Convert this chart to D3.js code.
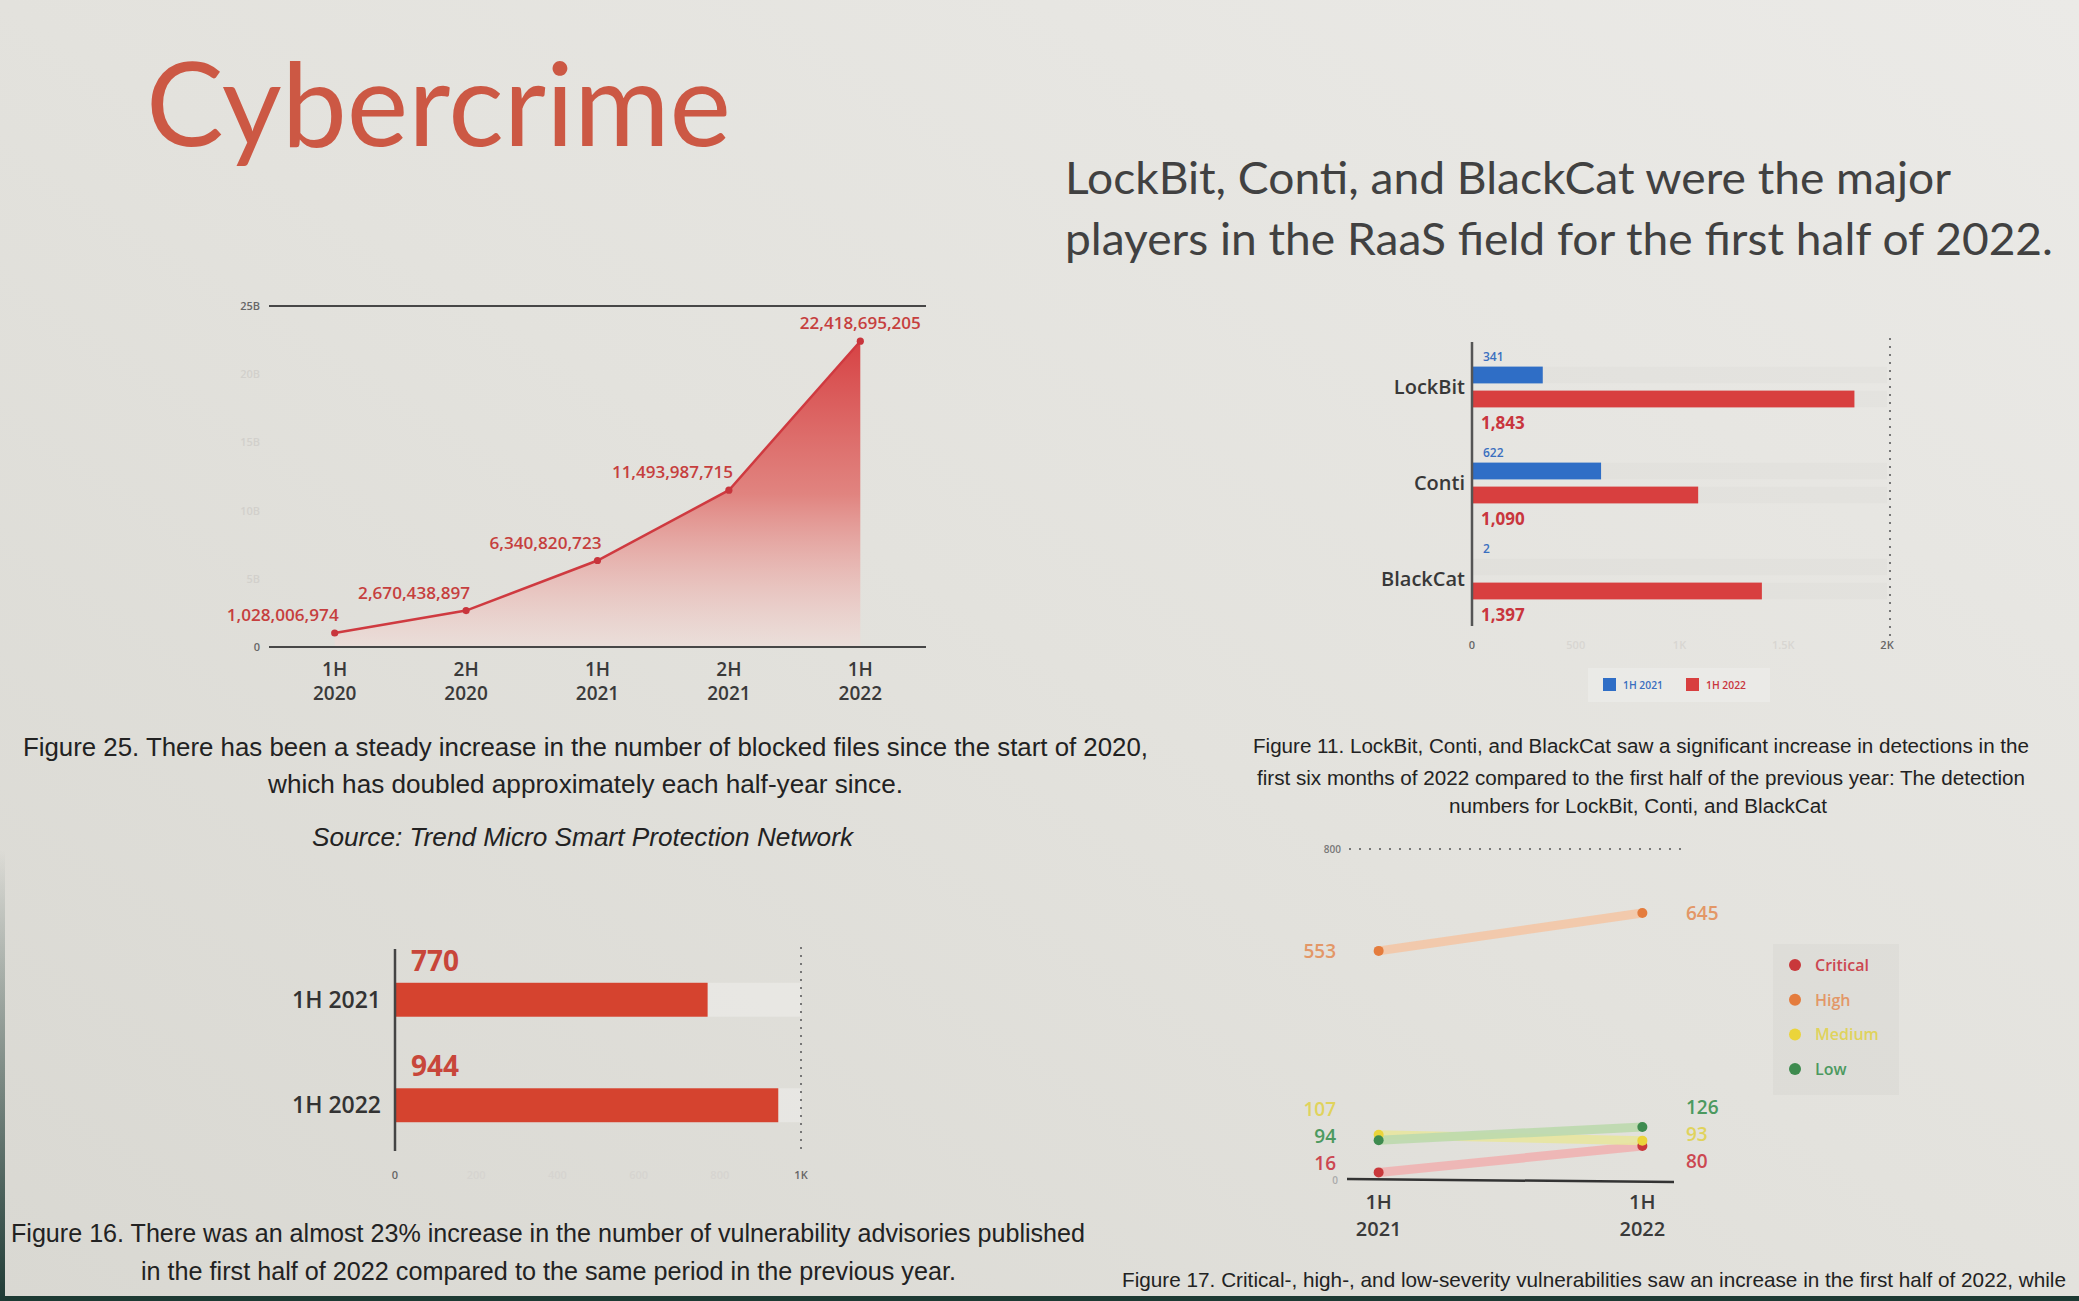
<!DOCTYPE html>
<html><head><meta charset="utf-8">
<script src="https://cdn.jsdelivr.net/npm/d3@7"></script>
<style>html,body{margin:0;padding:0;overflow:hidden;background:#e2e1dc}</style>
</head><body><svg id="c" width="2079" height="1301"></svg>
<script>
// ---------------- data ----------------
const blockedPeriods = ["1H 2020","2H 2020","1H 2021","2H 2021","1H 2022"];
const blockedFiles = [1028006974, 2670438897, 6340820723, 11493987715, 22418695205];
const blockedTicks = [0, 5e9, 10e9, 15e9, 20e9, 25e9];
const blockedTickLabels = ["0","5B","10B","15B","20B","25B"];

const raasGroups = ["LockBit","Conti","BlackCat"];
const raasSeries = ["1H 2021","1H 2022"];
const raas1H2021 = [341, 622, 2];
const raas1H2022 = [1843, 1090, 1397];
const raasTicks = [0, 500, 1000, 1500, 2000];
const raasTickLabels = ["0","500","1K","1.5K","2K"];

const advisoryPeriods = ["1H 2021","1H 2022"];
const advisoryCounts = [770, 944];
const advisoryTicks = [0, 200, 400, 600, 800, 1000];
const advisoryTickLabels = ["0","200","400","600","800","1K"];

const severityLevels = ["Critical","High","Medium","Low"];
const severityPeriods = ["1H 2021","1H 2022"];
const severity1H2021 = [16, 553, 107, 94];
const severity1H2022 = [80, 645, 93, 126];
const severityTicks = [0, 800];

const titleText = "Cybercrime";
const subtitleLines = ["LockBit, Conti, and BlackCat were the major",
                       "players in the RaaS field for the first half of 2022."];
const caption25 = ["Figure 25. There has been a steady increase in the number of blocked files since the start of 2020,",
                   "which has doubled approximately each half-year since."];
const source25 = "Source: Trend Micro Smart Protection Network";
const caption11 = ["Figure 11. LockBit, Conti, and BlackCat saw a significant increase in detections in the",
                   "first six months of 2022 compared to the first half of the previous year: The detection",
                   "numbers for LockBit, Conti, and BlackCat"];
const caption16 = ["Figure 16. There was an almost 23% increase in the number of vulnerability advisories published",
                   "in the first half of 2022 compared to the same period in the previous year."];
const caption17 = "Figure 17. Critical-, high-, and low-severity vulnerabilities saw an increase in the first half of 2022, while";

// ---------------- setup ----------------
const svg = d3.select("#c");
const defs = svg.append("defs");
const bgGrad = defs.append("linearGradient").attr("id","bg").attr("x1",0).attr("y1",1).attr("x2",1).attr("y2",0);
bgGrad.append("stop").attr("offset","0%").attr("stop-color","#d9d8d2");
bgGrad.append("stop").attr("offset","50%").attr("stop-color","#e3e2dd");
bgGrad.append("stop").attr("offset","100%").attr("stop-color","#ebeae7");
svg.append("rect").attr("width",2079).attr("height",1301).attr("fill","url(#bg)");

function txt(x, y, s, o) {
  o = o || {};
  const t = svg.append("text").attr("x", x).attr("y", y).text(s)
    .attr("font-family", o.family || "'Open Sans', sans-serif")
    .attr("font-size", o.size || 16)
    .attr("font-weight", o.weight || 400)
    .attr("fill", o.fill || "#333")
    .attr("text-anchor", o.anchor || "start");
  if (o.italic) t.attr("font-style", "italic");
  if (o.len) t.attr("textLength", o.len).attr("lengthAdjust", "spacingAndGlyphs");
  return t;
}

// ---------------- title & subtitle ----------------
txt(146, 146, titleText, {family:"Lato, sans-serif", size:117, fill:"#cc5844", len:585});
txt(1065, 194, subtitleLines[0], {family:"Lato, sans-serif", size:45, fill:"#414141", len:886});
txt(1065, 255, subtitleLines[1], {family:"Lato, sans-serif", size:45, fill:"#414141", len:988});

// ---------------- Figure 25: area chart ----------------
const x1 = d3.scalePoint().domain(blockedPeriods).range([269, 926]).padding(0.5);
const y1 = d3.scaleLinear().domain([0, 25e9]).range([647, 306]);
const areaGrad = defs.append("linearGradient").attr("id","areaG").attr("gradientUnits","userSpaceOnUse")
  .attr("x1",0).attr("x2",0).attr("y1", y1(d3.max(blockedFiles))).attr("y2", y1(0));
areaGrad.append("stop").attr("offset","0%").attr("stop-color","#d63a3c").attr("stop-opacity",0.95);
areaGrad.append("stop").attr("offset","50%").attr("stop-color","#e0736f").attr("stop-opacity",0.85);
areaGrad.append("stop").attr("offset","100%").attr("stop-color","#f3dcd8").attr("stop-opacity",0.5);

const blockedData = blockedPeriods.map((p,i) => ({p, v: blockedFiles[i]}));
svg.append("path").datum(blockedData)
  .attr("d", d3.area().x(d => x1(d.p)).y0(y1(0)).y1(d => y1(d.v)))
  .attr("fill","url(#areaG)");
svg.append("path").datum(blockedData)
  .attr("d", d3.line().x(d => x1(d.p)).y(d => y1(d.v)))
  .attr("fill","none").attr("stroke","#cf3a40").attr("stroke-width",2.5);
svg.selectAll(".d1").data(blockedData).enter().append("circle")
  .attr("cx", d => x1(d.p)).attr("cy", d => y1(d.v)).attr("r", 3.6).attr("fill","#c8353c");
[0, 25e9].forEach(v => {
  svg.append("line").attr("x1",269).attr("x2",926).attr("y1",y1(v)).attr("y2",y1(v))
    .attr("stroke","#474747").attr("stroke-width",2.2);
});
blockedTicks.forEach((v,i) => {
  txt(260, y1(v)+4, blockedTickLabels[i], {size:11, weight:600, anchor:"end",
    fill: (i===0 || i===blockedTicks.length-1) ? "#666" : "#d2d0cc"});
});
blockedData.forEach((d,i) => {
  const last = i === blockedData.length-1;
  txt(x1(d.p) + (last ? 0 : 4), y1(d.v) - 12, d3.format(",")(d.v),
      {size:16, weight:600, fill:"#c63f3e", anchor: last ? "middle" : "end", len: d.v >= 1e10 ? 121 : 112});
  const parts = d.p.split(" ");
  txt(x1(d.p), 676, parts[0], {size:19, weight:600, fill:"#3a3a3a", anchor:"middle"});
  txt(x1(d.p), 700, parts[1], {size:19, weight:600, fill:"#3a3a3a", anchor:"middle"});
});

const capFont = "'Liberation Sans', Arial, sans-serif";
txt(23, 756, caption25[0], {family:capFont, size:25, fill:"#222", len:1125});
txt(268, 793, caption25[1], {family:capFont, size:25, fill:"#222", len:635});
txt(312, 846, source25, {family:capFont, size:25, fill:"#222", italic:true, len:541});

// ---------------- Figure 11: RaaS bars ----------------
const x2 = d3.scaleLinear().domain([0, 2000]).range([1472, 1887]);
const y2 = d3.scaleBand().domain(raasGroups).range([339, 627]).padding(0);
const ys = d3.scaleBand().domain(raasSeries).range([0, y2.bandwidth()]).paddingInner(0.3).paddingOuter(1.15);
const raasColors = {"1H 2021":"#2f6ec6", "1H 2022":"#d83f3f"};
const raasLabelColors = {"1H 2021":"#3a6fbf", "1H 2022":"#c9353d"};
const raasData = [];
raasGroups.forEach((g,i) => {
  raasData.push({g, s:"1H 2021", v: raas1H2021[i]});
  raasData.push({g, s:"1H 2022", v: raas1H2022[i]});
});
svg.selectAll(".t2").data(raasData).enter().append("rect")
  .attr("x", x2(0)).attr("y", d => y2(d.g)+ys(d.s)).attr("width", x2(2000)-x2(0)).attr("height", ys.bandwidth())
  .attr("fill","rgba(0,0,0,0.017)");
svg.selectAll(".b2").data(raasData).enter().append("rect")
  .attr("x", x2(0)).attr("y", d => y2(d.g)+ys(d.s)).attr("width", d => x2(d.v)-x2(0)).attr("height", ys.bandwidth())
  .attr("fill", d => raasColors[d.s]);
raasData.forEach(d => {
  if (d.s === "1H 2021") {
    txt(x2(0)+11, y2(d.g)+ys(d.s)-6, d3.format(",")(d.v), {size:12, weight:600, fill:raasLabelColors[d.s]});
  } else {
    txt(x2(0)+9, y2(d.g)+ys(d.s)+ys.bandwidth()+22, d3.format(",")(d.v), {size:17, weight:700, fill:raasLabelColors[d.s]});
  }
});
raasGroups.forEach(g => {
  txt(x2(0)-7, y2(g)+y2.bandwidth()/2+7, g, {size:20, weight:600, fill:"#383838", anchor:"end"});
});
svg.append("line").attr("x1",x2(0)).attr("x2",x2(0)).attr("y1",342).attr("y2",626)
  .attr("stroke","#555").attr("stroke-width",2.5);
svg.append("line").attr("x1",x2(2000)+3).attr("x2",x2(2000)+3).attr("y1",338).attr("y2",637)
  .attr("stroke","#777").attr("stroke-width",2).attr("stroke-dasharray","2,6");
raasTicks.forEach((v,i) => {
  txt(x2(v), 649, raasTickLabels[i], {size:11, weight:600, anchor:"middle",
    fill: (i===0 || i===raasTicks.length-1) ? "#666" : "#d8d6d2"});
});
svg.append("rect").attr("x",1588).attr("y",668).attr("width",182).attr("height",34).attr("fill","rgba(255,255,255,0.22)");
raasSeries.forEach((s,i) => {
  const lx = 1603 + i*83;
  svg.append("rect").attr("x",lx).attr("y",678).attr("width",13).attr("height",13).attr("fill",raasColors[s]);
  txt(lx+20, 689, s, {size:11, weight:600, fill:raasLabelColors[s], len:40});
});
txt(1253, 753, caption11[0], {family:capFont, size:20, fill:"#222", len:776});
txt(1257, 785, caption11[1], {family:capFont, size:20, fill:"#222", len:768});
txt(1449, 813, caption11[2], {family:capFont, size:20, fill:"#222", len:378});

// ---------------- Figure 16: advisories ----------------
const x4 = d3.scaleLinear().domain([0, 1000]).range([395, 801]);
const y4 = d3.scaleBand().domain(advisoryPeriods).range([947, 1158]).paddingInner(0.678).paddingOuter(0.339);
const advData = advisoryPeriods.map((p,i) => ({p, v: advisoryCounts[i]}));
svg.selectAll(".t4").data(advData).enter().append("rect")
  .attr("x", x4(0)).attr("y", d => y4(d.p)).attr("width", x4(1000)-x4(0)).attr("height", y4.bandwidth())
  .attr("fill","rgba(255,255,255,0.28)");
svg.selectAll(".b4").data(advData).enter().append("rect")
  .attr("x", x4(0)).attr("y", d => y4(d.p)).attr("width", d => x4(d.v)-x4(0)).attr("height", y4.bandwidth())
  .attr("fill","#d5432f");
advData.forEach(d => {
  txt(x4(0)+16, y4(d.p)-12, d3.format(",")(d.v), {size:28, weight:700, fill:"#c8463a"});
  txt(x4(0)-14, y4(d.p)+y4.bandwidth()/2+8, d.p, {size:23, weight:600, fill:"#333", anchor:"end"});
});
svg.append("line").attr("x1",x4(0)).attr("x2",x4(0)).attr("y1",949).attr("y2",1151)
  .attr("stroke","#444").attr("stroke-width",2.5);
svg.append("line").attr("x1",x4(1000)).attr("x2",x4(1000)).attr("y1",947).attr("y2",1154)
  .attr("stroke","#777").attr("stroke-width",2).attr("stroke-dasharray","2,6");
advisoryTicks.forEach((v,i) => {
  txt(x4(v), 1179, advisoryTickLabels[i], {size:11, weight:600, anchor:"middle",
    fill: (i===0 || i===advisoryTicks.length-1) ? "#666" : "#d6d4d0"});
});
txt(11, 1242, caption16[0], {family:capFont, size:25, fill:"#222", len:1074});
txt(141, 1280, caption16[1], {family:capFont, size:25, fill:"#222", len:815});

// ---------------- Figure 17: slope chart ----------------
const x3 = d3.scalePoint().domain(severityPeriods).range([1347, 1674]).padding(0.12);
const y3 = d3.scaleLinear().domain([0, 800]).range([1179, 849]);
const sevLine = {Critical:"#efb3b1", High:"#f3c6a6", Medium:"#e8e69e", Low:"#bcd9ad"};
const sevDot = {Critical:"#c9383b", High:"#e47c3d", Medium:"#ebd43a", Low:"#3e8b4f"};
const sevLabel = {Critical:"#cc4751", High:"#e39767", Medium:"#e0d35c", Low:"#4c995f"};
const sevData = severityLevels.map((s,i) => ({s, a: severity1H2021[i], b: severity1H2022[i]}));

svg.append("line").attr("x1",1349).attr("x2",1681).attr("y1",y3(800)).attr("y2",y3(800))
  .attr("stroke","#777").attr("stroke-width",2.2).attr("stroke-dasharray","2,8");
txt(1341, y3(800)+4, String(severityTicks[1]), {size:10, weight:600, fill:"#777", anchor:"end"});
txt(1338, y3(0)+5, String(severityTicks[0]), {size:10, weight:600, fill:"#aaa", anchor:"end"});

const drawOrder = ["High","Critical","Medium","Low"];
drawOrder.forEach(s => {
  const d = sevData.find(e => e.s === s);
  svg.append("line").attr("x1",x3(severityPeriods[0])).attr("y1",y3(d.a))
    .attr("x2",x3(severityPeriods[1])).attr("y2",y3(d.b))
    .attr("stroke",sevLine[s]).attr("stroke-width",9).attr("stroke-opacity",0.9);
});
svg.append("line").attr("x1",1347).attr("x2",1674).attr("y1",y3(0)).attr("y2",y3(0)+3)
  .attr("stroke","#333").attr("stroke-width",2.5);
drawOrder.forEach(s => {
  const d = sevData.find(e => e.s === s);
  svg.append("circle").attr("cx",x3(severityPeriods[0])).attr("cy",y3(d.a)).attr("r",5).attr("fill",sevDot[s]);
  svg.append("circle").attr("cx",x3(severityPeriods[1])).attr("cy",y3(d.b)).attr("r",5).attr("fill",sevDot[s]);
});
function dodge(items, gap, maxY) {
  items.sort((p,q) => p.y - q.y);
  items.forEach(it => it.t = it.y);
  for (let iter = 0; iter < 200; iter++) {
    for (let i = 1; i < items.length; i++) {
      const ov = gap - (items[i].t - items[i-1].t);
      if (ov > 0) { items[i].t += ov/2; items[i-1].t -= ov/2; }
    }
    items.forEach(it => { if (it.t > maxY) it.t = maxY; });
  }
  return items;
}
const leftItems = dodge(sevData.map(d => ({s:d.s, v:d.a, y:y3(d.a)})), 27, y3(0)-16);
const rightItems = dodge(sevData.map(d => ({s:d.s, v:d.b, y:y3(d.b)})), 27, y3(0)-18);
leftItems.forEach(it => txt(1336, it.t+7, String(it.v), {size:19, weight:600, fill:sevLabel[it.s], anchor:"end"}));
rightItems.forEach(it => txt(1686, it.t+7, String(it.v), {size:19, weight:600, fill:sevLabel[it.s]}));
severityPeriods.forEach(p => {
  const parts = p.split(" ");
  txt(x3(p), 1209, parts[0], {size:20, weight:600, fill:"#3a3a3a", anchor:"middle"});
  txt(x3(p), 1236, parts[1], {size:20, weight:600, fill:"#3a3a3a", anchor:"middle"});
});
svg.append("rect").attr("x",1773).attr("y",944).attr("width",126).attr("height",151).attr("fill","rgba(0,0,0,0.022)");
severityLevels.forEach((s,i) => {
  const ly = 965 + i*34.7;
  svg.append("circle").attr("cx",1795).attr("cy",ly).attr("r",6).attr("fill",sevDot[s]);
  txt(1815, ly+6, s, {size:16, weight:600, fill:sevLabel[s]});
});
txt(1122, 1287, caption17, {family:capFont, size:21, fill:"#222", len:944});

// ---------------- photo frame edges ----------------
const edgeGrad = defs.append("linearGradient").attr("id","edge").attr("x1",0).attr("y1",0).attr("x2",0).attr("y2",1);
edgeGrad.append("stop").attr("offset","0%").attr("stop-color","#1f3b35").attr("stop-opacity",0);
edgeGrad.append("stop").attr("offset","100%").attr("stop-color","#1f3b35").attr("stop-opacity",1);
svg.append("rect").attr("x",0).attr("y",1296).attr("width",2079).attr("height",5).attr("fill","#1d3a33");
svg.append("rect").attr("x",0).attr("y",850).attr("width",5).attr("height",451).attr("fill","url(#edge)");
</script></body></html>
